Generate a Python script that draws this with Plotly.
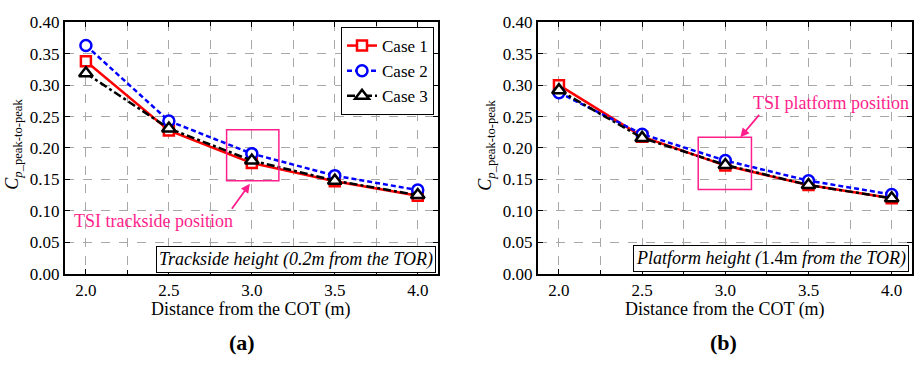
import plotly.graph_objects as go

distance = [2.0, 2.5, 3.0, 3.5, 4.0]
case_names = ["Case 1", "Case 2", "Case 3"]

# Panel (a): trackside height
a_case1 = [0.338, 0.228, 0.176, 0.147, 0.124]
a_case2 = [0.363, 0.243, 0.191, 0.156, 0.133]
a_case3 = [0.319, 0.231, 0.180, 0.148, 0.125]

# Panel (b): platform height
b_case1 = [0.300, 0.218, 0.172, 0.141, 0.120]
b_case2 = [0.288, 0.222, 0.180, 0.148, 0.126]
b_case3 = [0.292, 0.216, 0.173, 0.141, 0.120]

x_ticks = [2.0, 2.5, 3.0, 3.5, 4.0]
x_tick_text = ["2.0", "2.5", "3.0", "3.5", "4.0"]
y_ticks = [0.00, 0.05, 0.10, 0.15, 0.20, 0.25, 0.30, 0.35, 0.40]
y_tick_text = ["0.00", "0.05", "0.10", "0.15", "0.20", "0.25", "0.30", "0.35", "0.40"]

FONT = "'Liberation Serif', 'Times New Roman', Times, serif"
PINK = "#ff1e8c"
W, H = 914, 370

styles = [
    dict(color="red", dash="solid", symbol="square", size=10),
    dict(color="blue", dash="5px,3px", symbol="circle", size=11),
    dict(color="black", dash="8px,3px,3px,3px", symbol="triangle-up", size=12),
]

fig = go.Figure()

for panel, series in (("a", [a_case1, a_case2, a_case3]), ("b", [b_case1, b_case2, b_case3])):
    xa = "x" if panel == "a" else "x2"
    ya = "y" if panel == "a" else "y2"
    for name, vals, st in zip(case_names, series, styles):
        fig.add_trace(go.Scatter(
            x=distance, y=vals, name=name, mode="lines+markers",
            xaxis=xa, yaxis=ya, showlegend=(panel == "a"),
            line=dict(color=st["color"], width=2.5, dash=st["dash"]),
            marker=dict(symbol=st["symbol"], size=st["size"], color="white",
                        line=dict(color=st["color"], width=2.5)),
        ))

def px_x(p):
    return p / W

def px_y(p):
    return (H - p) / H

axis_common = dict(
    showline=True, linewidth=2, linecolor="black", mirror="allticks",
    ticks="inside", ticklen=5, tickwidth=1, tickcolor="black",
    showgrid=True, gridcolor="#a8a8a8", gridwidth=1, griddash="dash",
    zeroline=False, tickfont=dict(family=FONT, size=17, color="black"),
)

xaxis_common = dict(
    axis_common, range=[1.874, 4.122], tickvals=x_ticks, ticktext=x_tick_text,
    minor=dict(dtick=0.25, tick0=2.0, ticks="inside", ticklen=4, showgrid=True,
               gridcolor="#a8a8a8", griddash="dash", gridwidth=1),
)
yaxis_common = dict(
    axis_common, range=[0, 0.40], tickvals=y_ticks, ticktext=y_tick_text,
    domain=[px_y(279), px_y(14)],
)

fig.update_layout(
    width=W, height=H,
    margin=dict(l=0, r=0, t=0, b=0),
    paper_bgcolor="white", plot_bgcolor="white",
    font=dict(family=FONT, color="black"),
    xaxis=dict(xaxis_common, domain=[px_x(65), px_x(438)], anchor="y"),
    yaxis=dict(yaxis_common, anchor="x"),
    xaxis2=dict(xaxis_common, domain=[px_x(538), px_x(912)], anchor="y2"),
    yaxis2=dict(yaxis_common, anchor="x2"),
    legend=dict(
        x=px_x(434), y=px_y(19), xanchor="right", yanchor="top",
        bgcolor="white", bordercolor="black", borderwidth=1,
        font=dict(family=FONT, size=17, color="black"),
        tracegroupgap=0, itemwidth=30,
    ),
    showlegend=True,
)

# Pink rectangles marking TSI positions
fig.add_shape(type="rect", xref="x", yref="y", x0=2.848, x1=3.163, y0=0.148, y1=0.229,
              line=dict(color=PINK, width=1.5))
fig.add_shape(type="rect", xref="x2", yref="y2", x0=2.837, x1=3.157, y0=0.134, y1=0.217,
              line=dict(color=PINK, width=1.5))

def label(x, y, text, size, **kw):
    d = dict(xref="paper", yref="paper", x=px_x(x), y=px_y(y), text=text, showarrow=False,
             xanchor="center", yanchor="middle",
             font=dict(family=FONT, size=size, color="black"))
    d.update(kw)
    return d

annotations = [
    # arrows
    dict(xref="x", yref="y", axref="x", ayref="y", x=2.988, y=0.143, ax=2.873, ay=0.101,
         text="", showarrow=True, arrowhead=2, arrowsize=1, arrowwidth=1.8, arrowcolor=PINK),
    dict(xref="x2", yref="y2", axref="x2", ayref="y2", x=3.09, y=0.217, ax=3.211, ay=0.255,
         text="", showarrow=True, arrowhead=2, arrowsize=1, arrowwidth=1.8, arrowcolor=PINK),
    # pink labels
    dict(xref="x", yref="y", x=2.41, y=0.084, text="TSI trackside position", showarrow=False,
         xanchor="center", yanchor="middle",
         font=dict(family=FONT, size=18, color=PINK)),
    dict(xref="x2", yref="y2", x=3.633, y=0.271, text="TSI platform position", showarrow=False,
         xanchor="center", yanchor="middle",
         font=dict(family=FONT, size=18, color=PINK)),
    # boxed captions
    dict(xref="paper", yref="paper", x=px_x(436), y=px_y(278), xanchor="right", yanchor="bottom",
         text="<i>Trackside height (0.2m from the TOR)</i>", showarrow=False,
         font=dict(family=FONT, size=18, color="black"),
         bgcolor="white", bordercolor="black", borderwidth=1, borderpad=2),
    dict(xref="paper", yref="paper", x=px_x(909), y=px_y(277), xanchor="right", yanchor="bottom",
         text="<i>Platform height (</i>1.4m<i> from the TOR)</i>", showarrow=False,
         font=dict(family=FONT, size=18, color="black"),
         bgcolor="white", bordercolor="black", borderwidth=1, borderpad=2),
    # x-axis titles
    label(251, 317, "Distance from the COT (m)", 18),
    label(725, 317, "Distance from the COT (m)", 18),
    # y-axis titles
    label(14, 143, "<i>C</i><sub><i>p</i>_peak-to-peak</sub>", 18, textangle=-90),
    label(487, 143, "<i>C</i><sub><i>p</i>_peak-to-peak</sub>", 18, textangle=-90),
    # panel labels
    label(242, 352, "<b>(a)</b>", 22),
    label(723, 352, "<b>(b)</b>", 22),
]
fig.update_layout(annotations=annotations)

fig.write_html("out.html")
